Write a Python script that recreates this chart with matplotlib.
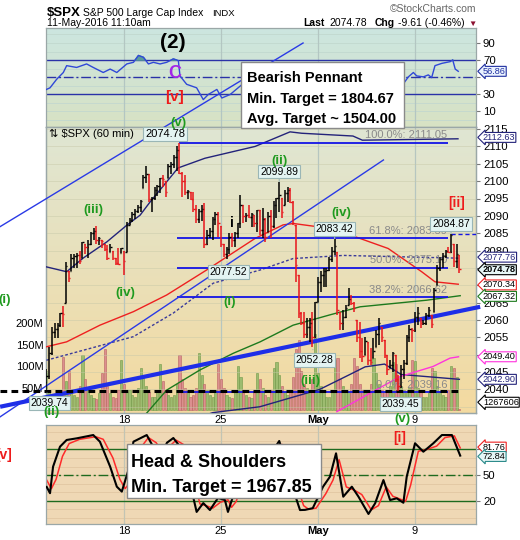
import matplotlib
matplotlib.use('Agg')
import matplotlib.pyplot as plt
from matplotlib.colors import LinearSegmentedColormap
from matplotlib.patches import Rectangle
import numpy as np

plt.rcParams['font.family'] = ['Liberation Sans', 'DejaVu Sans']

# $SPX 60 min bars, 12-Apr-2016 .. 11-May-2016 11:10 (7 bars a day)
hi = [2046.0, 2052.3, 2058.0, 2059.1, 2059.1, 2062.0, 2064.0,     # Apr 12
      2076.7, 2074.0, 2079.0, 2079.0, 2079.2, 2080.0, 2082.5,     # 13
      2082.0, 2083.0, 2085.3, 2086.4, 2087.0, 2084.0, 2083.0,     # 14
      2082.0, 2081.6, 2082.0, 2080.0, 2078.0, 2080.7, 2080.8,     # 15
      2080.0, 2088.3, 2089.4, 2091.2, 2092.0, 2093.0, 2094.6,     # 18
      2101.8, 2104.4, 2102.0, 2095.5, 2098.4, 2098.9, 2101.0,     # 19
      2101.8, 2099.9, 2105.0, 2105.6, 2107.5, 2110.0, 2111.05,    # 20
      2102.7, 2101.8, 2097.4, 2097.0, 2097.0, 2093.1, 2092.0,     # 21
      2093.0, 2093.7, 2085.9, 2086.5, 2089.7, 2091.2, 2091.2,     # 22
      2087.0, 2082.0, 2081.0, 2085.0, 2085.0, 2085.4, 2088.0,     # 25
      2096.0, 2093.0, 2090.7, 2093.0, 2090.7, 2090.2, 2091.8,     # 26
      2091.8, 2092.2, 2089.3, 2091.2, 2091.8, 2094.2, 2095.2,     # 27
      2099.89, 2095.1, 2097.5, 2098.4, 2098.0, 2094.2, 2087.4,    # 28
      2073.0, 2062.4, 2062.4, 2060.5, 2060.5, 2062.4, 2065.3,     # 29
      2072.5, 2074.0, 2075.0, 2075.0, 2078.2, 2081.1, 2083.42,    # May 2
      2079.7, 2062.4, 2062.9, 2064.3, 2069.1, 2067.2, 2065.3,     # 3
      2060.0, 2059.5, 2054.7, 2055.2, 2053.7, 2051.8, 2054.7,     # 4
      2057.1, 2060.5, 2058.1, 2054.2, 2049.9, 2048.4, 2050.9,     # 5
      2049.9, 2044.1, 2047.0, 2048.4, 2055.7, 2058.5, 2057.6,     # 6
      2062.4, 2063.8, 2060.5, 2060.0, 2061.9, 2063.8, 2061.3,     # 9
      2069.1, 2075.8, 2078.2, 2079.2, 2080.1, 2081.1, 2084.87,    # 10
      2082.0, 2082.0, 2078.7]                                     # 11
lo = [2039.74, 2043.0, 2050.0, 2054.8, 2054.8, 2058.0, 2058.0,
      2065.0, 2071.0, 2074.0, 2075.0, 2075.0, 2076.0, 2078.0,
      2079.0, 2078.0, 2081.6, 2083.0, 2082.0, 2081.6, 2080.7,
      2080.0, 2077.3, 2079.6, 2077.3, 2075.8, 2075.8, 2079.3,
      2073.0, 2079.7, 2087.4, 2088.3, 2089.0, 2090.8, 2091.0,
      2098.0, 2099.5, 2094.0, 2091.0, 2094.6, 2095.8, 2096.6,
      2098.4, 2095.5, 2100.9, 2102.2, 2103.7, 2103.0, 2102.0,
      2095.5, 2096.0, 2095.0, 2094.6, 2091.2, 2088.0, 2088.0,
      2088.6, 2080.7, 2081.6, 2083.6, 2083.0, 2087.3, 2084.0,
      2081.0, 2078.2, 2077.52, 2079.1, 2081.1, 2081.0, 2083.5,
      2086.4, 2087.8, 2088.3, 2089.3, 2086.9, 2086.9, 2085.4,
      2084.5, 2083.6, 2082.5, 2085.4, 2083.5, 2086.4, 2089.3,
      2091.2, 2089.3, 2093.1, 2094.1, 2093.6, 2087.4, 2071.0,
      2060.5, 2058.5, 2054.7, 2054.7, 2053.7, 2052.28, 2054.7,
      2065.3, 2068.2, 2069.6, 2069.6, 2074.0, 2076.8, 2078.7,
      2061.5, 2057.1, 2057.1, 2060.5, 2064.3, 2064.3, 2062.4,
      2053.7, 2049.0, 2048.0, 2049.9, 2047.0, 2047.0, 2049.0,
      2052.3, 2052.8, 2053.7, 2049.0, 2044.1, 2046.1, 2045.1,
      2042.2, 2039.45, 2040.3, 2043.1, 2047.0, 2053.7, 2053.7,
      2056.6, 2058.5, 2057.6, 2058.5, 2058.5, 2060.9, 2057.6,
      2062.4, 2070.0, 2074.0, 2074.9, 2077.8, 2079.2, 2079.2,
      2075.3, 2074.9, 2073.5]
cl = [2044.0, 2050.5, 2056.5, 2057.5, 2058.5, 2061.9, 2061.7,
      2075.5, 2072.0, 2078.0, 2078.5, 2078.8, 2077.0, 2082.4,
      2081.0, 2082.0, 2085.0, 2085.5, 2083.0, 2083.5, 2082.8,
      2080.5, 2078.0, 2081.0, 2078.0, 2076.5, 2076.0, 2080.7,
      2077.0, 2087.5, 2088.8, 2090.5, 2091.5, 2092.5, 2094.3,
      2101.2, 2102.0, 2095.0, 2095.2, 2097.5, 2098.5, 2100.8,
      2100.5, 2097.0, 2104.5, 2105.0, 2107.0, 2109.0, 2102.4,
      2100.0, 2097.0, 2097.2, 2095.0, 2092.0, 2089.0, 2091.5,
      2092.0, 2082.0, 2084.5, 2085.5, 2089.0, 2090.5, 2088.0,
      2082.0, 2079.0, 2080.5, 2084.0, 2083.0, 2085.0, 2087.8,
      2093.0, 2090.0, 2090.3, 2089.8, 2090.4, 2088.0, 2091.7,
      2086.0, 2089.0, 2084.0, 2090.0, 2087.0, 2093.0, 2095.15,
      2096.0, 2091.0, 2096.5, 2097.5, 2094.0, 2088.0, 2075.8,
      2062.0, 2059.0, 2056.0, 2058.0, 2059.0, 2055.0, 2065.3,
      2071.0, 2073.0, 2074.0, 2074.5, 2077.5, 2080.0, 2081.4,
      2063.0, 2059.0, 2061.0, 2063.5, 2066.0, 2065.0, 2063.4,
      2055.0, 2051.0, 2049.5, 2054.0, 2048.5, 2048.0, 2051.1,
      2056.0, 2059.0, 2055.0, 2050.0, 2046.0, 2047.0, 2050.6,
      2043.0, 2041.0, 2046.0, 2047.5, 2055.0, 2057.5, 2057.1,
      2061.0, 2062.0, 2059.0, 2059.2, 2061.5, 2063.0, 2058.7,
      2068.5, 2075.0, 2077.5, 2078.5, 2079.8, 2079.5, 2084.4,
      2077.0, 2079.0, 2074.78]
first_open = 2042.0
vol = [88, 45, 35, 30, 28, 40, 122,
       65, 90, 40, 35, 30, 55, 125,
       70, 45, 35, 28, 25, 38, 85,
       140, 55, 38, 30, 28, 45, 115,
       60, 40, 45, 35, 30, 50, 95,
       75, 55, 40, 30, 30, 45, 105,
       65, 45, 35, 30, 35, 60, 125,
       70, 50, 40, 30, 35, 50, 130,
       80, 60, 45, 35, 30, 45, 105,
       70, 50, 35, 30, 28, 40, 100,
       75, 45, 35, 30, 28, 40, 85,
       70, 50, 35, 30, 45, 95, 110,
       80, 55, 40, 35, 45, 75, 140,
       160, 90, 60, 50, 45, 70, 175,
       85, 55, 40, 30, 30, 45, 115,
       120, 70, 55, 45, 40, 60, 120,
       100, 60, 45, 40, 45, 60, 120,
       85, 60, 45, 40, 40, 55, 110,
       105, 75, 55, 45, 40, 50, 115,
       113, 50, 40, 30, 30, 40, 95,
       90, 55, 40, 35, 30, 45, 100,
       95, 75, 1.27]   # millions

date_ticks = [28, 63, 98, 133]
date_labels = ['18', '25', 'May', '9']
price_ticks = list(range(2040, 2116, 5))
hidden_ticks = [2050, 2070, 2075]   # covered by the value tags

# overlays (bar index, value)
bbu_x = [0, 7.3, 13.2, 21.8, 29, 33.8, 37.4, 47.5, 57.2, 75.3, 87.9, 92.1, 110.6, 114, 148.5]
bbu_y = [2075.3, 2073.9, 2077.8, 2082.5, 2087.3, 2090.2, 2094.0, 2103.8, 2106.6, 2110.0,
         2114.2, 2113.8, 2113.0, 2111.8, 2112.2]
bbm_x = [0, 31.4, 45.8, 60.2, 77.1, 89, 107.1, 149.3]
bbm_y = [2048.4, 2055.2, 2062.0, 2070.6, 2074.4, 2077.7, 2078.6, 2077.8]
bbl_x = [50, 60, 77, 98.6, 110, 115, 122, 128, 149]
bbl_y = [2030.5, 2033.3, 2035.0, 2040.0, 2044.5, 2046.5, 2047.3, 2044.3, 2042.9]
ma_red_x = [0.1, 7.3, 19.3, 31.4, 43.4, 57.8, 75.3, 85.4, 89.1, 97.5, 109.6, 123.3, 135.4, 140.2, 148.6]
ma_red_y = [2052.3, 2053.7, 2058.5, 2062.4, 2067.2, 2074.4, 2083.5, 2087.4, 2087.8, 2086.9,
            2084.5, 2080.6, 2073.9, 2071.0, 2070.3]
ma_grn_x = [33.8, 43.4, 55.4, 67.4, 77.1, 89, 102.4, 113.2, 137.2, 149.3]
ma_grn_y = [2031.0, 2039.8, 2045.6, 2050.4, 2053.7, 2058.5, 2061.5, 2063.8, 2065.7, 2067.0]
ma_mag_x = [104.8, 116.8, 127.6, 139.5, 145.6, 148.7]
ma_mag_y = [2033.6, 2038.9, 2043.7, 2046.6, 2049.0, 2049.4]

fib_levels = [2111.05, 2083.59, 2075.10, 2066.62, 2039.16]
fib_names = ['100.0%', '61.8%', '50.0%', '38.2%', '0.0%']

rsi_x = [0, 1.3, 3.7, 6.1, 7.3, 10.9, 14.5, 16.9, 20.5, 23, 25.4, 29, 31.4, 33.2, 35, 36.8, 38.6,
         41, 43.4, 45.8, 47.6, 48.2, 50.6, 54.2, 56.6, 58.4, 61.5, 63.3, 66.3, 69.9, 73, 77, 81,
         84, 88, 90, 93, 97, 101, 104, 106, 110, 113, 117, 120, 124, 127, 128.8, 130.6, 132.4,
         133.6, 136, 137.8, 139, 140.2, 142.7, 145.7, 146.6, 147.5, 148.6]
rsi_v = [35.7, 37.6, 47.6, 55.5, 63.5, 61.4, 65.5, 61.4, 55.5, 59.5, 55.5, 65.5, 67.4, 75.4, 73.3,
         65.5, 67.4, 65.5, 67.4, 71.4, 69.4, 51.5, 41.7, 37.6, 23.8, 29.8, 35.7, 25.7, 29.8, 39.6,
         48, 45, 52, 58, 50, 32, 25, 35, 48, 55, 38, 42, 32, 30, 38, 30, 35, 42.3, 50.4, 55.5,
         51.5, 50.4, 52.7, 49.5, 63.5, 66.2, 68.2, 70.2, 59.5, 56.9]

stk_x = [0.1, 1.3, 2.4, 4.9, 7.3, 10.9, 16.9, 19.3, 23, 25.4, 27.2, 29.6, 31.4, 36.2, 38.5, 41,
         43.5, 45.8, 48.2, 52.4, 54.2, 56.6, 59, 61.9, 64.4, 65.5, 67.3, 70, 73, 76, 79, 82, 84,
         86, 88, 90.3, 91.5, 93.3, 96.1, 99.8, 102.3, 104.5, 107.1, 110.2, 112.6, 116.2, 118.6,
         121.6, 124, 126.4, 128.8, 130, 133, 136, 139.6, 142.7, 146.3, 149.3]
stk_k = [36, 28.6, 59.8, 83.3, 91.2, 93.1, 97, 89.2, 59.8, 36.3, 30.5, 55.9, 89.2, 97, 83.3, 70,
         88, 93.5, 83.3, 32, 6.6, 17, 8.8, 23, 20.6, 6.6, 24.5, 55, 75, 60, 45, 80, 90, 70, 45,
         20.6, 8.8, 9, 11, 36.2, 48, 75.5, 24.5, 36.3, 24.5, 4.2, 16.7, 44.1, 20.6, 22.6, 17.4,
         48, 87.3, 77.4, 87.3, 97, 97, 72.8]
std_x = [0.1, 1.8, 3.5, 5.8, 8.2, 12, 17.8, 20.5, 24, 26.5, 28.4, 30.8, 32.6, 36.8, 39.6, 42,
         44.5, 46.8, 49.4, 53.2, 55.4, 57.6, 60, 62.8, 65.5, 66.8, 68.5, 71, 74, 77, 80, 83, 85,
         87, 89.5, 91.4, 92.8, 94.5, 97.3, 100.8, 103.4, 105.6, 108.2, 111.2, 113.8, 117.2,
         119.8, 122.6, 125, 127.4, 129.6, 131.4, 134.2, 137.2, 140.8, 143.8, 147.2, 149.3]
std_d = [44, 34, 45, 72, 87, 92, 95, 92, 70, 45, 34, 44, 76, 94, 88, 76, 84, 91, 86, 45, 16, 14,
         11, 18, 21, 12, 19, 45, 68, 64, 50, 72, 86, 74, 52, 28, 14, 10, 11, 28, 44, 68, 36, 32,
         27, 9, 14, 36, 25, 22, 19, 38, 78, 80, 84, 94, 96, 81.8]

# ---------------------------------------------------------------
W, H = 520, 540
fig = plt.figure(figsize=(W / 100, H / 100), dpi=100)
fig.patch.set_facecolor('white')
XL = (-0.15, 155.0)
GREEN, RED = '#1f9a1f', '#ee1c1c'
SPINE = '#9aa7a7'


def box(x0, y0, x1, y1):
    return [x0 / W, 1 - y1 / H, (x1 - x0) / W, (y1 - y0) / H]


def fp(x, y):
    return x / W, 1 - y / H


def paint(ax, top, bottom, ylim):
    cm = LinearSegmentedColormap.from_list('bg', [bottom, top])
    ax.imshow(np.linspace(0, 1, 100).reshape(-1, 1), cmap=cm, origin='lower', aspect='auto',
              extent=[XL[0], XL[1], ylim[0], ylim[1]], zorder=0)


def frame(ax):
    for s in ax.spines.values():
        s.set_color(SPINE)
        s.set_linewidth(0.9)


def tag(ax, y, text, ec, tc='black', fc='white', weight='normal'):
    ax.text(1.016, y, text, transform=ax.get_yaxis_transform(), fontsize=6.6, color=tc,
            weight=weight, va='center', ha='left', clip_on=False, zorder=20,
            bbox=dict(boxstyle='larrow,pad=0.05', fc=fc, ec=ec, lw=0.8))


# ---------------- top panel (RSI) ----------------
ax_r = fig.add_axes(box(46, 28, 476, 127))
RL = (-8.2, 107.5)
paint(ax_r, '#cce6e0', '#d8e2c4', RL)
for v in range(0, 101, 10):
    ax_r.axhline(v, color='#c2d8cf', lw=0.6, zorder=0.5)
for d in date_ticks:
    ax_r.axvline(d, color='#b3c6c2', lw=0.9, zorder=0.6)
ra = np.array(rsi_v)
ax_r.fill_between(rsi_x, ra, 70, where=ra > 70, interpolate=True, color='#5a9c9a', zorder=2)
ax_r.axhline(70, color='#2a32a8', lw=1, zorder=1)
ax_r.axhline(30, color='#2a32a8', lw=1, zorder=1)
ax_r.axhline(50, color='#2a32a8', lw=1, ls=(0, (7, 2, 1.5, 2)), zorder=1)
ax_r.plot(rsi_x, rsi_v, color='#3048d8', lw=1, zorder=3)
ax_r.set_xlim(XL)
ax_r.set_ylim(RL)
ax_r.yaxis.tick_right()
ax_r.set_yticks([10, 30, 50, 70, 90])
ax_r.set_yticklabels(['10', '30', '', '70', '90'])
ax_r.set_xticks([])
ax_r.tick_params(axis='y', labelsize=8.2, length=3, color='#777', pad=2)
frame(ax_r)
tag(ax_r, 56.86, '56.86', '#2030a0', tc='#2030a0', fc='#eaf2ff')

# ---------------- main panel (price + volume) ----------------
ax_v = fig.add_axes(box(46, 127, 476, 413))
VL = (-7.6, 651)
paint(ax_v, '#dfe6d3', '#f4daa0', VL)
for d in date_ticks:
    ax_v.axvline(d, color='#b6c6c0', lw=0.9, zorder=0.6)
n = len(cl)
xs = np.arange(n)
prev = [first_open] + cl[:-1]
op = [min(max(p, l), h) for p, l, h in zip(prev, lo, hi)]
up = [c >= p for c, p in zip(cl, prev)]
ax_v.bar(xs, vol, width=0.78, color=['#9dbc70' if u else '#dc8f8f' for u in up],
         edgecolor=['#6f9848' if u else '#b86262' for u in up], lw=0.4, zorder=2)
ax_v.set_xlim(XL)
ax_v.set_ylim(VL)
ax_v.set_yticks([50, 100, 150, 200])
ax_v.set_yticklabels([f'{v}M' for v in [50, 100, 150, 200]])
ax_v.set_xticks(date_ticks)
ax_v.set_xticklabels(date_labels)
ax_v.tick_params(axis='y', labelsize=8, length=0, pad=2)
ax_v.tick_params(axis='x', labelsize=8, length=0, pad=1.5)
ax_v.get_xticklabels()[2].set_fontweight('bold')
frame(ax_v)

ax = ax_v.twinx()
PL = (2033.2, 2115.6)
ax.set_ylim(PL)
ax.set_xlim(XL)
for p in range(2035, 2116, 5):
    ax.axhline(p, color='#c7c8a8', lw=0.6, alpha=0.55, zorder=0.5)
ax.set_yticks(price_ticks)
ax.set_yticklabels(['' if p in hidden_ticks else str(p) for p in price_ticks])
ax.tick_params(axis='y', labelsize=8.2, length=3, color='#777', pad=2)
frame(ax)

# moving averages / bands
ax.plot(bbu_x, bbu_y, color='#23237a', lw=1, zorder=3)
ax.plot(bbl_x, bbl_y, color='#23237a', lw=1, zorder=3)
ax.plot(bbm_x, bbm_y, color='#3a3a9a', lw=1, ls=(0, (2, 1.5)), zorder=3)
ax.plot(ma_red_x, ma_red_y, color='#ee2020', lw=1, zorder=3)
ax.plot(ma_grn_x, ma_grn_y, color='#1d7a1d', lw=1, zorder=3)
ax.plot(ma_mag_x, ma_mag_y, color='#ff33dd', lw=1, zorder=3)

# fibonacci retracement
fib_start = [48, 47, 47, 47, 47]
for lvl, name, s in zip(fib_levels, fib_names, fib_start):
    ax.hlines(lvl, s, 145, color='#1414e6', lw=1.3, zorder=3)
    ax.text(144.6, lvl + 0.7, f'{name}: {lvl:.2f}', ha='right', va='bottom', fontsize=8,
            color='#8a8a8a', zorder=3)
ax.hlines(hi[146], 146, 155, color='#1414e6', lw=1, ls=(0, (3, 2)), zorder=3)

# trend lines drawn across the chart
ax.plot([-16.7, 92.6], [2086.9, 2139.8], color='#2a3ae6', lw=1, clip_on=False, zorder=4)
ax.plot([-16.7, 121.6], [2032.1, 2106.1], color='#2a3ae6', lw=1, clip_on=False, zorder=4)
ax.plot([-16.7, 156.5], [2035.0, 2063.8], color='#1e2ee8', lw=3, clip_on=False, zorder=4,
        solid_capstyle='butt')
ax.plot([-16.7, 149.2], [2039.5, 2039.5], color='black', lw=2.2, ls=(0, (2.2, 1.4)),
        clip_on=False, zorder=4)

# price bars
bcol = ['black' if u else '#e8151b' for u in up]
ax.vlines(xs, lo, hi, colors=bcol, lw=1.1, zorder=5)
ax.hlines(op, xs - 0.5, xs, colors=bcol, lw=1.0, zorder=5)
ax.hlines(cl, xs, xs + 0.5, colors=bcol, lw=1.0, zorder=5)

# pivot callouts
LBL = dict(fontsize=7.5, ha='center', va='center', zorder=8,
           bbox=dict(boxstyle='square,pad=0.18', fc='#e4f4f2', ec='#9ab6b6', lw=0.8))
for i in [84, 104, 146]:
    ax.annotate(f'{hi[i]:.2f}', xy=(i, hi[i]), xytext=(0, 10), textcoords='offset pixels',
                arrowprops=dict(arrowstyle='-', color='#9ab6b6', lw=0.8), **LBL)
for i in [0, 65, 96, 127]:
    ax.annotate(f'{lo[i]:.2f}', xy=(i, lo[i]), xytext=(2 if i else 3, -13),
                textcoords='offset pixels',
                arrowprops=dict(arrowstyle='-', color='#9ab6b6', lw=0.8), **LBL)

# right-hand value tags
tag(ax, bbu_y[-1] + 0.4, '2112.63', '#23237a', tc='#23237a')
tag(ax, bbm_y[-1] + 0.3, '2077.76', '#23237a', tc='#23237a')
tag(ax, cl[-1] - 0.3, f'{cl[-1]:.2f}', 'black', fc='#e6f6f6', weight='bold')
tag(ax, ma_red_y[-1] - 0.2, '2070.34', '#ee2020')
tag(ax, ma_grn_y[-1] - 0.2, '2067.32', '#1d7a1d')
tag(ax, ma_mag_y[-1], '2049.40', '#ff33dd')
tag(ax, bbl_y[-1], '2042.90', '#23237a', tc='#23237a')
tag(ax, 2036.3, '1267606', 'black')

# panel title
fig.text(*fp(49, 134), '\u21c5 $SPX (60 min)', fontsize=8, va='center', ha='left', zorder=9)
fig.text(*fp(145, 134), f'{cl[-1]:.2f}', fontsize=8, va='center', ha='left', zorder=9,
         bbox=dict(boxstyle='square,pad=0.15', fc='#e4f4f2', ec='#9ab6b6', lw=0.8))

# ---------------- lower panel (stochastics) ----------------
ax_s = fig.add_axes(box(46, 425, 476, 524))
SL = (-7.6, 108.8)
ax_s.set_facecolor('#efd8b5')
for v in range(0, 101, 10):
    ax_s.axhline(v, color='#e3c9a5', lw=0.7, zorder=0.5)
for d in date_ticks:
    ax_s.axvline(d, color='#c2c4b4', lw=0.9, zorder=0.6)
ax_s.axhline(80, color='#1e6a1e', lw=1, zorder=1)
ax_s.axhline(20, color='#1e6a1e', lw=1, zorder=1)
ax_s.axhline(50, color='#1e6a1e', lw=1, ls=(0, (7, 2, 1.5, 2)), zorder=1)
ax_s.plot(std_x, std_d, color='#ff2a2a', lw=1.1, zorder=2)
ax_s.plot(stk_x, stk_k, color='black', lw=1.5, zorder=3)
ax_s.set_xlim(XL)
ax_s.set_ylim(SL)
ax_s.yaxis.tick_right()
ax_s.set_yticks([20, 50, 80])
ax_s.set_yticklabels(['20', '50', ''])
ax_s.set_xticks(date_ticks)
ax_s.set_xticklabels(date_labels)
ax_s.get_xticklabels()[2].set_fontweight('bold')
ax_s.tick_params(axis='y', labelsize=8.2, length=3, color='#777', pad=2)
ax_s.tick_params(axis='x', labelsize=8, length=0, pad=1.5)
frame(ax_s)
tag(ax_s, std_d[-1] + 1, '81.76', '#ee2020')
tag(ax_s, stk_k[-1] - 1, '72.84', '#2a8a8a', fc='#e6f6f6')

# ---------------- header ----------------
fig.text(*fp(47, 15.5), '$SPX', fontsize=9.5, weight='bold', va='baseline')
fig.text(*fp(83, 15.5), 'S&P 500 Large Cap Index', fontsize=7.5, va='baseline')
fig.text(*fp(212, 15.5), 'INDX', fontsize=6.8, va='baseline')
fig.text(*fp(47, 26), '11-May-2016 11:10am', fontsize=7.5, va='baseline')
fig.text(*fp(476, 12.5), '\u00a9StockCharts.com', fontsize=7.5, color='#666', ha='right',
         va='baseline')
fig.text(*fp(303, 26), 'Last', fontsize=7.5, weight='bold', va='baseline')
fig.text(*fp(329, 26), f'{cl[-1]:.2f}', fontsize=7.5, va='baseline')
fig.text(*fp(375, 26), 'Chg', fontsize=7.5, weight='bold', va='baseline')
fig.text(*fp(398, 26), '-9.61 (-0.46%)', fontsize=7.5, va='baseline')
fig.text(*fp(468, 26), '\u25bc', fontsize=6, color='#8b1030', va='baseline')

# ---------------- wave labels ----------------
waves = [('(2)', 173, 43, 'black', 15), ('C', 175, 73, '#a326e8', 13),
         ('[v]', 175, 97, RED, 11), ('(v)', 178, 123, GREEN, 9.5),
         ('(iii)', 93, 210, GREEN, 9.5), ('(iv)', 125, 293, GREEN, 9.5),
         ('(i)', 5, 300, GREEN, 9.5), ('(ii)', 52, 412, GREEN, 9.5),
         ('(i)', 230, 302, GREEN, 9.5), ('(ii)', 280, 161, GREEN, 9.5),
         ('i', 232, 223, 'black', 10), ('(iv)', 341, 213, GREEN, 9.5),
         ('(iii)', 310, 381, GREEN, 9.5), ('[ii]', 457, 203, RED, 10),
         ('(v)', 402, 419, GREEN, 9.5), ('[i]', 400, 438, RED, 10)]
for s, x, y, c, fs in waves:
    fig.text(*fp(x, y), s, color=c, fontsize=fs, weight='bold', ha='center', va='center',
             zorder=9)
fig.text(*fp(12, 455), '[v]', color=RED, fontsize=10, weight='bold', ha='right', va='center')

# ---------------- pattern boxes ----------------
for (x0, y0, x1, y1) in [(241, 62, 404, 128), (127, 444, 321, 498)]:
    fig.add_artist(Rectangle(fp(x0, y1), (x1 - x0) / W, (y1 - y0) / H, transform=fig.transFigure,
                             fc='white', ec='#8a8a8a', lw=1, zorder=15))
for txt, y in [('Bearish Pennant', 82), ('Min. Target = 1804.67', 103),
               ('Avg. Target ~ 1504.00', 123)]:
    fig.text(*fp(247, y), txt, fontsize=10.5, weight='bold', va='baseline', zorder=16)
for txt, y in [('Head & Shoulders', 467), ('Min. Target = 1967.85', 492)]:
    fig.text(*fp(131, y), txt, fontsize=13, weight='bold', va='baseline', zorder=16)

fig.savefig('out.png', dpi=100)
